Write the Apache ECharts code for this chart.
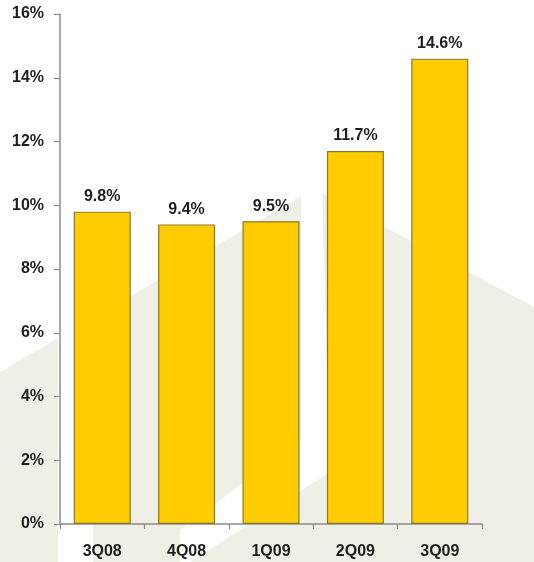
<!DOCTYPE html>
<html>
<head>
<meta charset="utf-8">
<script src="https://cdn.jsdelivr.net/npm/echarts@6/dist/echarts.min.js"></script>
<style>
  html, body { margin: 0; padding: 0; background: #ffffff; }
  #chart { width: 534px; height: 562px; }
</style>
</head>
<body>
<div id="chart"></div>
<script>
// Quarterly values (percent)
const quarters = ['3Q08', '4Q08', '1Q09', '2Q09', '3Q09'];
const rates = [9.8, 9.4, 9.5, 11.7, 14.6];
const yTicks = [0, 2, 4, 6, 8, 10, 12, 14, 16];

const FONT = '"Liberation Sans", Arial, sans-serif';
const TEXT = '#1e1e1e';
const AXIS = '#8c8c8c';
const SHADE = '#eef0e5';

const chart = echarts.init(document.getElementById('chart'), null, { renderer: 'canvas' });

// Pale decorative backdrop shapes behind the plot
const backdrop = [
  [[0, 372], [58, 338], [58, 562], [0, 562]],
  [[93, 318], [301, 196], [301, 440], [180, 530], [180, 562], [93, 562]],
  [[322, 193], [534, 307], [534, 562], [190, 562], [330, 472]]
].map(pts => ({
  type: 'polygon',
  z: -10,
  silent: true,
  shape: { points: pts },
  style: { fill: SHADE }
}));

chart.setOption({
  backgroundColor: '#ffffff',
  animation: false,
  graphic: backdrop,
  grid: { left: 60, right: 52, top: 14, bottom: 38 },
  xAxis: {
    type: 'category',
    data: quarters,
    boundaryGap: true,
    axisLine: { lineStyle: { color: AXIS, width: 1.5 } },
    axisTick: { show: true, length: 5, alignWithLabel: false, lineStyle: { color: AXIS, width: 1.2 } },
    axisLabel: { margin: 20, color: TEXT, fontFamily: FONT, fontWeight: 'bold', fontSize: 16 }
  },
  yAxis: {
    type: 'value',
    min: yTicks[0],
    max: yTicks[yTicks.length - 1],
    interval: yTicks[1] - yTicks[0],
    splitLine: { show: false },
    axisLine: { show: true, lineStyle: { color: AXIS, width: 1.5 } },
    axisTick: { show: true, length: 6, lineStyle: { color: AXIS, width: 1.2 } },
    axisLabel: {
      margin: 16,
      color: TEXT,
      fontFamily: FONT,
      fontWeight: 'bold',
      fontSize: 16,
      formatter: v => v + '%'
    }
  },
  series: [{
    type: 'bar',
    data: rates,
    barWidth: 57,
    itemStyle: { color: '#ffcc00', borderColor: '#85782f', borderWidth: 1.2 },
    label: {
      show: true,
      position: 'top',
      distance: 7,
      color: TEXT,
      fontFamily: FONT,
      fontWeight: 'bold',
      fontSize: 16,
      formatter: p => p.value.toFixed(1) + '%'
    }
  }]
});
</script>
</body>
</html>
